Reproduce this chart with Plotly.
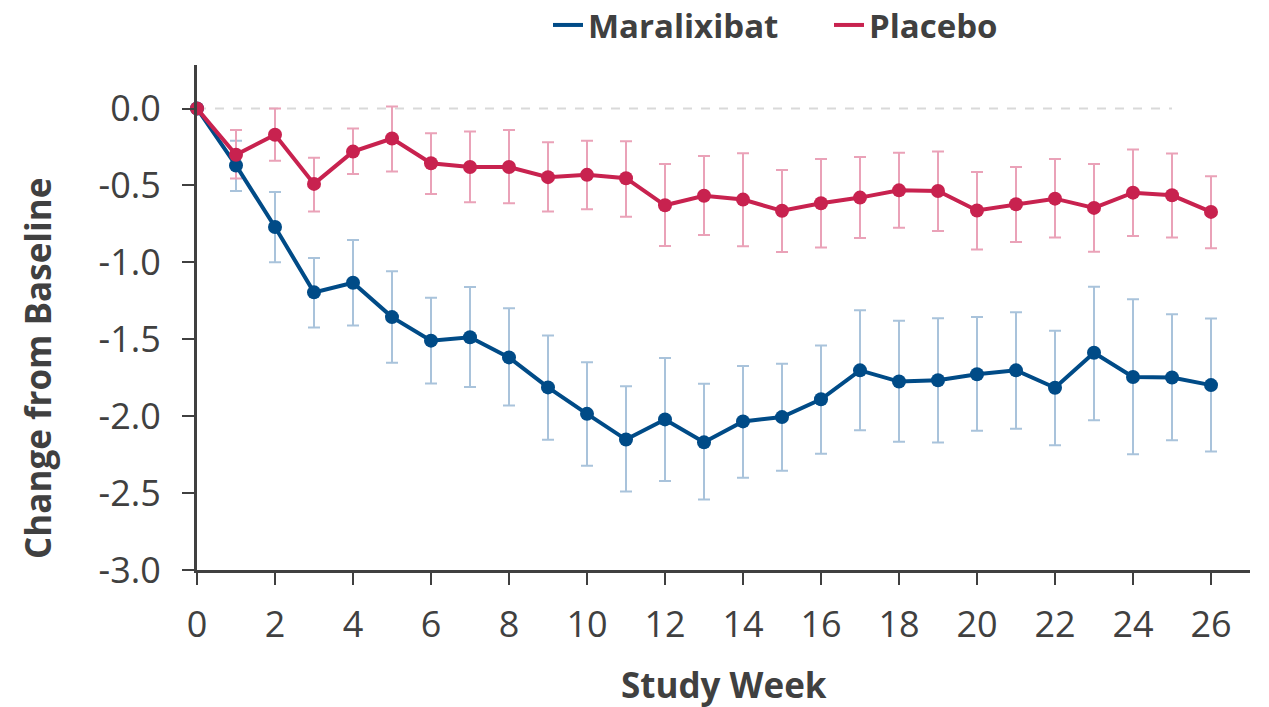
import plotly.graph_objects as go

weeks = list(range(0, 27))

mara_mean = [0.0, -0.37, -0.77, -1.195, -1.133, -1.356, -1.509, -1.487, -1.618, -1.813, -1.985,
             -2.152, -2.021, -2.17, -2.034, -2.006, -1.89, -1.702, -1.775, -1.766, -1.727,
             -1.702, -1.815, -1.588, -1.745, -1.749, -1.798]
mara_upper = [0.0, -0.21, -0.543, -0.972, -0.854, -1.058, -1.23, -1.161, -1.298, -1.476, -1.65,
              -1.805, -1.622, -1.79, -1.674, -1.659, -1.54, -1.311, -1.38, -1.363, -1.356,
              -1.324, -1.444, -1.159, -1.24, -1.337, -1.365]
mara_lower = [0.0, -0.536, -1.0, -1.423, -1.41, -1.652, -1.788, -1.811, -1.931, -2.154, -2.322,
              -2.489, -2.421, -2.541, -2.401, -2.354, -2.245, -2.092, -2.167, -2.171, -2.094,
              -2.081, -2.189, -2.026, -2.247, -2.157, -2.229]

plac_mean = [0.0, -0.30, -0.17, -0.49, -0.28, -0.195, -0.356, -0.38, -0.38, -0.446, -0.431,
             -0.453, -0.629, -0.567, -0.592, -0.665, -0.616, -0.579, -0.532, -0.536, -0.663,
             -0.622, -0.586, -0.646, -0.547, -0.564, -0.672]
plac_upper = [0.0, -0.14, 0.0, -0.32, -0.13, 0.013, -0.16, -0.15, -0.14, -0.22, -0.21,
              -0.212, -0.36, -0.309, -0.29, -0.399, -0.328, -0.315, -0.287, -0.279, -0.412,
              -0.38, -0.328, -0.36, -0.266, -0.292, -0.44]
plac_lower = [0.0, -0.455, -0.34, -0.67, -0.425, -0.41, -0.556, -0.61, -0.616, -0.67, -0.655,
              -0.704, -0.893, -0.822, -0.895, -0.933, -0.903, -0.841, -0.775, -0.796, -0.916,
              -0.867, -0.839, -0.931, -0.828, -0.839, -0.908]

x_ticks = list(range(0, 27, 2))
y_ticks = [0.0, -0.5, -1.0, -1.5, -2.0, -2.5, -3.0]

BLUE = "#004B87"
BLUE_ERR = "#A9C3DB"
RED = "#C8224F"
RED_ERR = "#EAA2B8"
TXT = "#404040"
FONT = "Open Sans"

def err(mean, upper, lower):
    plus = [u - m for u, m in zip(upper, mean)]
    minus = [m - l for m, l in zip(mean, lower)]
    return plus, minus

fig = go.Figure()

for name, mean, up, lo, col, ecol in [
    ("Maralixibat", mara_mean, mara_upper, mara_lower, BLUE, BLUE_ERR),
    ("Placebo", plac_mean, plac_upper, plac_lower, RED, RED_ERR),
]:
    plus, minus = err(mean, up, lo)
    fig.add_trace(go.Scatter(
        x=weeks[1:], y=mean[1:], mode="markers",
        marker=dict(size=1, color="rgba(0,0,0,0)"),
        error_y=dict(type="data", symmetric=False, array=plus[1:], arrayminus=minus[1:],
                     color=ecol, thickness=2, width=6),
        showlegend=False, hoverinfo="skip", cliponaxis=False,
    ))

for name, mean, col in [("Maralixibat", mara_mean, BLUE), ("Placebo", plac_mean, RED)]:
    fig.add_trace(go.Scatter(
        x=weeks, y=mean, mode="lines+markers", name=name,
        line=dict(color=col, width=4),
        marker=dict(size=14, color=col),
        showlegend=False, cliponaxis=False,
    ))

for name, col in [("Maralixibat", BLUE), ("Placebo", RED)]:
    fig.add_trace(go.Scatter(
        x=[None], y=[None], mode="lines", name=name,
        line=dict(color=col, width=4), showlegend=True,
    ))

fig.add_shape(type="line", xref="x", yref="y", x0=0, x1=25, y0=0, y1=0,
              line=dict(color="#D9D9D9", width=2, dash="dash"), layer="below")

fig.add_annotation(text="Change from Baseline", xref="paper", yref="paper",
                   x=(38 - 197) / 1053, y=(570 - 367) / 510, xanchor="center", yanchor="middle",
                   textangle=-90, showarrow=False,
                   font=dict(size=35, color=TXT, family=FONT, weight="bold"))
fig.add_annotation(text="Study Week", xref="paper", yref="paper",
                   x=(724 - 197) / 1053, y=-(686 - 570) / 510, xanchor="center", yanchor="middle",
                   showarrow=False,
                   font=dict(size=35, color=TXT, family=FONT, weight="bold"))

fig.update_layout(
    width=1269, height=707,
    margin=dict(l=197, r=19, t=60, b=137),
    plot_bgcolor="white", paper_bgcolor="white",
    font=dict(family=FONT, color=TXT),
    legend=dict(orientation="h", xref="container", yref="container",
                x=548 / 1269, xanchor="left", y=1 - 25 / 707, yanchor="middle",
                font=dict(size=33, family=FONT, color=TXT, weight="bold"),
                bgcolor="rgba(0,0,0,0)", itemwidth=30,
                entrywidth=236, entrywidthmode="pixels"),
    xaxis=dict(
        range=[0, 27], tickvals=x_ticks, ticktext=[str(v) for v in x_ticks],
        showline=True, linecolor=TXT, linewidth=3,
        ticks="outside", ticklen=12, tickwidth=2, tickcolor=TXT,
        tickfont=dict(size=36, color=TXT, family=FONT),
        showgrid=False, zeroline=False, ticklabelstandoff=9,
    ),
    yaxis=dict(
        range=[-3, 0.283], tickvals=y_ticks, ticktext=[f"{v:.1f}" for v in y_ticks],
        showline=True, linecolor=TXT, linewidth=3,
        ticks="outside", ticklen=12, tickwidth=2, tickcolor=TXT,
        tickfont=dict(size=36, color=TXT, family=FONT),
        showgrid=False, zeroline=False, ticklabelstandoff=14,
    ),
)

fig.write_html("out.html")
